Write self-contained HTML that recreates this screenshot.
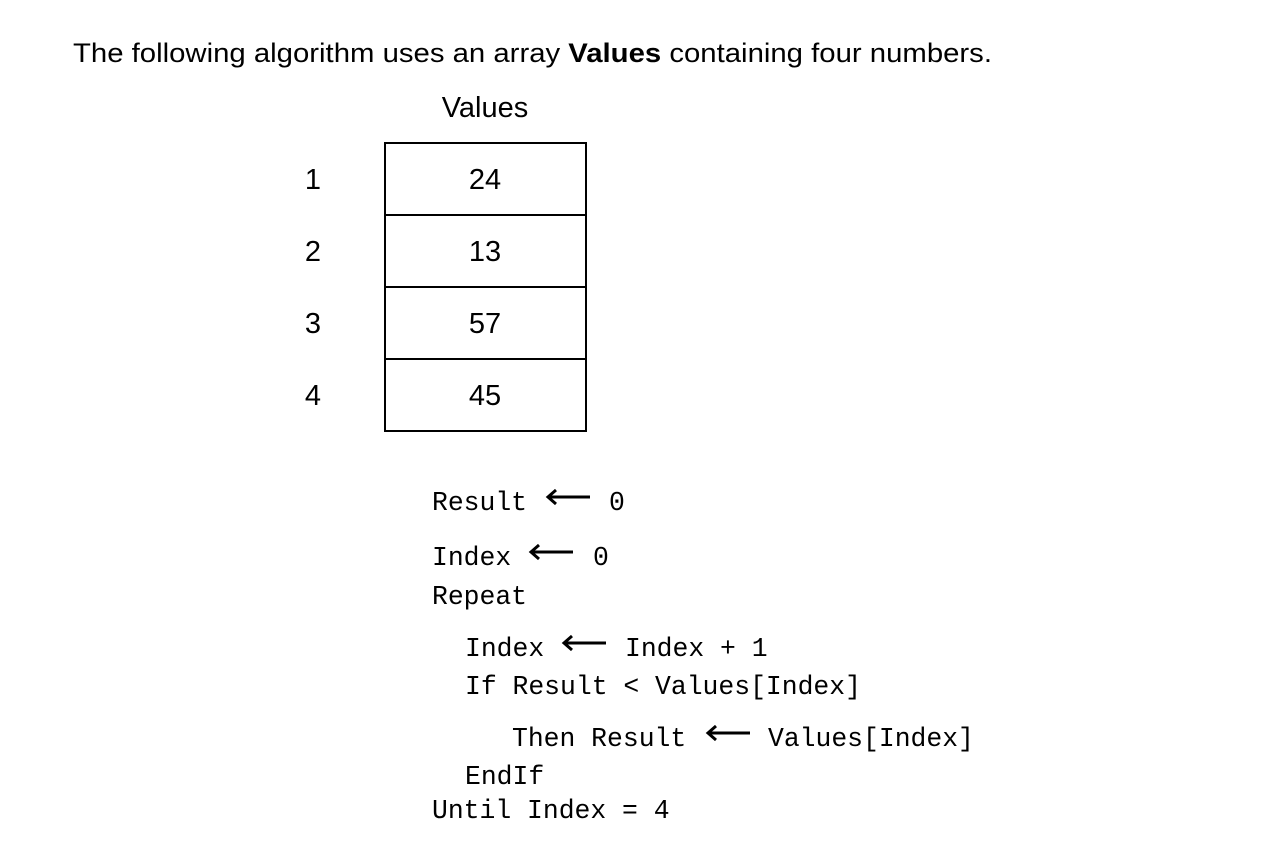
<!DOCTYPE html>
<html><head><meta charset="utf-8"><style>
html,body{margin:0;padding:0;background:#fff;width:1264px;height:848px;overflow:hidden}
</style></head><body>
<svg width="1264" height="848" xmlns="http://www.w3.org/2000/svg">
<g font-family="Liberation Sans, Arial, sans-serif" font-size="29" fill="#000">
<text x="73" y="62" textLength="919" lengthAdjust="spacingAndGlyphs" font-size="27">The following algorithm uses an array <tspan font-weight="bold">Values</tspan> containing four numbers.</text>
<text x="485" y="117" text-anchor="middle">Values</text>
<text x="313" y="189" text-anchor="middle">1</text>
<text x="313" y="261" text-anchor="middle">2</text>
<text x="313" y="333" text-anchor="middle">3</text>
<text x="313" y="405" text-anchor="middle">4</text>
<text x="485" y="189" text-anchor="middle">24</text>
<text x="485" y="261" text-anchor="middle">13</text>
<text x="485" y="333" text-anchor="middle">57</text>
<text x="485" y="405" text-anchor="middle">45</text>
</g>
<g fill="none" stroke="#000" stroke-width="2">
<rect x="385" y="143" width="201" height="288"/>
<line x1="385" y1="215" x2="586" y2="215"/>
<line x1="385" y1="287" x2="586" y2="287"/>
<line x1="385" y1="359" x2="586" y2="359"/>
</g>
<g font-family="Liberation Mono, Courier New, monospace" font-size="26.4" fill="#000">
<text x="432" y="510">Result</text>
<text x="609" y="510">0</text>
<text x="432" y="565">Index</text>
<text x="593" y="565">0</text>
<text x="432" y="604">Repeat</text>
<text x="465" y="656">Index</text>
<text x="625" y="656">Index + 1</text>
<text x="465" y="694">If Result &lt; Values[Index]</text>
<text x="512" y="746">Then Result</text>
<text x="768" y="746">Values[Index]</text>
<text x="465" y="784">EndIf</text>
<text x="432" y="818">Until Index = 4</text>
</g>
<g stroke="#000" stroke-width="3" fill="none">
<path d="M590,497 H548 M556,490 L548,497 L556,504"/>
<path d="M573,552 H531 M539,545 L531,552 L539,559"/>
<path d="M606,643 H564 M572,636 L564,643 L572,650"/>
<path d="M750,733 H708 M716,726 L708,733 L716,740"/>
</g>
</svg>
</body></html>
